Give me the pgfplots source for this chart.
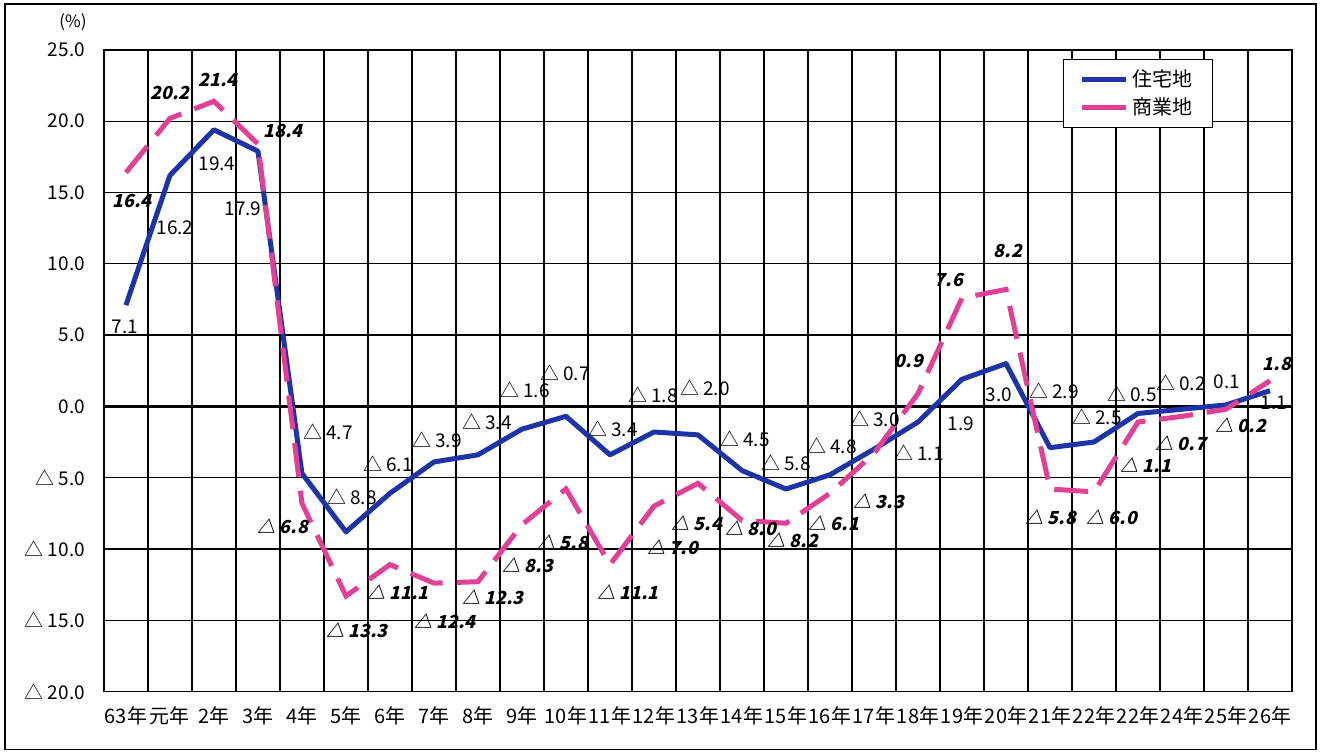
\documentclass[border=0pt]{standalone}
\usepackage{pgfplots}
\usepackage{pgfplotstable}
\pgfplotsset{compat=1.18}
\usepackage{fontspec}
\setmainfont{Noto Sans CJK JP}
\newfontfamily\comfont{Noto Sans CJK JP}[FakeSlant=0.22]

\definecolor{resblue}{RGB}{28,52,168}
\definecolor{compink}{RGB}{226,64,150}

% x  value  label-shift(pt)  label
\pgfplotstableread{
x y dx dy lab
0 7.1 -0.5 -11 7.1
1 16.2 2.5 -26 16.2
2 19.4 1.5 -17 19.4
3 17.9 -7.5 -29 17.9
4 -4.7 13 21 △~4.7
5 -8.8 3 17.5 △~8.8
6 -6.1 -1 15 △~6.1
7 -3.9 1.5 11 △~3.9
8 -3.4 4.5 16.5 △~3.4
9 -1.6 1.5 19.5 △~1.6
10 -0.7 -0.5 22 △~0.7
11 -3.4 1.5 13 △~3.4
12 -1.8 -0.5 18.5 △~1.8
13 -2.0 3.5 23.5 △~2.0
14 -4.5 1.5 16 △~4.5
15 -5.8 0 13 △~5.8
16 -4.8 1 14.5 △~4.8
17 -3.0 0.5 15 △~3.0
18 -1.1 0.5 -15.5 △~1.1
19 1.9 -0.5 -22 1.9
20 3.0 -3.5 -15.5 3.0
21 -2.9 2 28.5 △~2.9
22 -2.5 1.5 12.5 △~2.5
23 -0.5 -3 10 △~0.5
24 -0.2 -0.5 13 △~0.2
25 0.1 0.5 11.5 0.1
26 1.1 2 -6 1.1
}\res

\pgfplotstableread{
x y dx dy lab
0 16.4 3 -14 16.4
1 20.2 0 12.5 20.2
2 21.4 2 10.5 21.4
3 18.4 12.5 6.5 18.4
4 -6.8 -9.5 -11.5 △~6.8
5 -13.3 5.5 -17 △~13.3
6 -11.1 4 -14 △~11.1
7 -12.4 5.5 -19 △~12.4
8 -12.3 7.5 -8 △~12.3
9 -8.3 3 -20.5 △~8.3
10 -5.8 -1.5 -26.5 △~5.8
11 -11.1 9 -14 △~11.1
12 -7.0 9.5 -20.5 △~7.0
13 -5.4 -0.5 -20 △~5.4
14 -8.0 4.5 -4 △~8.0
15 -8.2 3.5 -8.5 △~8.2
16 -6.1 2 -15 △~6.1
17 -3.3 2.5 -24 △~3.3
18 0.9 -4.5 16.5 0.9
19 7.6 -6.5 9 7.6
20 8.2 1 19.5 8.2
21 -5.8 0.5 -14 △~5.8
22 -6.0 9 -12.5 △~6.0
23 -1.1 4 -21.5 △~1.1
24 -0.7 -0.5 -13.5 △~0.7
25 -0.2 7.5 -8 △~0.2
26 1.8 3.5 8.5 1.8
}\com

\begin{document}
\begin{tikzpicture}
\begin{axis}[name=ax,
  scale only axis, width=594.5pt, height=321pt,
  xmin=-0.5, xmax=26.5, ymin=-20, ymax=25,
  clip=false,
  axis line style={black, line width=0.6pt},
  xtick={0,...,26},
  xticklabels={63年,元年,2年,3年,4年,5年,6年,7年,8年,9年,10年,11年,12年,13年,14年,15年,16年,17年,18年,19年,20年,21年,22年,22年,24年,25年,26年},
  minor xtick={0.5,1.5,...,25.5},
  xminorgrids, ymajorgrids,
  major tick length=0pt, minor tick length=0pt,
  grid style={black, line width=0.6pt},
  minor grid style={black, line width=0.6pt},
  ytick={-20,-15,...,25},
  yticklabels={△ 20.0,△ 15.0,△ 10.0,△ 5.0,0.0,5.0,10.0,15.0,20.0,25.0},
  xticklabel style={font=\fontsize{10}{11}\selectfont, yshift=-4pt},
  yticklabel style={font=\fontsize{9.5}{11}\selectfont, xshift=-6pt},
  legend style={at={(rel axis cs:0.9336,0.986)}, anchor=north east,
    draw=black, line width=0.6pt, font=\fontsize{10}{12}\selectfont,
    inner xsep=8pt, inner ysep=3pt},
  legend image code/.code={\draw[#1,solid] (0pt,0pt) -- (22pt,0pt);},
]
\draw[black, line width=1.3pt] (rel axis cs:0,0.4444) -- (rel axis cs:1,0.4444);
\addplot[resblue, line width=2.5pt, line join=round,
  point meta=explicit symbolic,
  visualization depends on={\thisrow{dx} \as \dx},
  visualization depends on={\thisrow{dy} \as \dy},
  nodes near coords={\textcolor{black}{\fontsize{9.5}{11}\selectfont\pgfplotspointmeta}},
  nodes near coords style={anchor=center, inner sep=0pt, xshift=\dx pt, yshift=\dy pt}]
  table[x=x, y=y, meta=lab] {\res};
\addlegendentry{住宅地}
\addplot[compink, line width=2.5pt, dash pattern=on 17pt off 7pt,
  point meta=explicit symbolic,
  visualization depends on={\thisrow{dx} \as \dx},
  visualization depends on={\thisrow{dy} \as \dy},
  nodes near coords={\textcolor{black}{\comfont\bfseries\fontsize{9}{11}\selectfont\pgfplotspointmeta}},
  nodes near coords style={anchor=center, inner sep=0pt, xshift=\dx pt, yshift=\dy pt}]
  table[x=x, y=y, meta=lab] {\com};
\addlegendentry{商業地}
\node[font=\fontsize{8.5}{10}\selectfont] at ([xshift=-15.5pt,yshift=14pt]rel axis cs:0,1) {(\%)};
\end{axis}
\draw[black, line width=0.8pt] ([shift={(-49.5pt,-29pt)}]ax.south west) rectangle ([shift={(12pt,23pt)}]ax.north east);
\path ([shift={(-52pt,-31pt)}]ax.south west) rectangle ([shift={(14.5pt,25pt)}]ax.north east);
\end{tikzpicture}
\end{document}
